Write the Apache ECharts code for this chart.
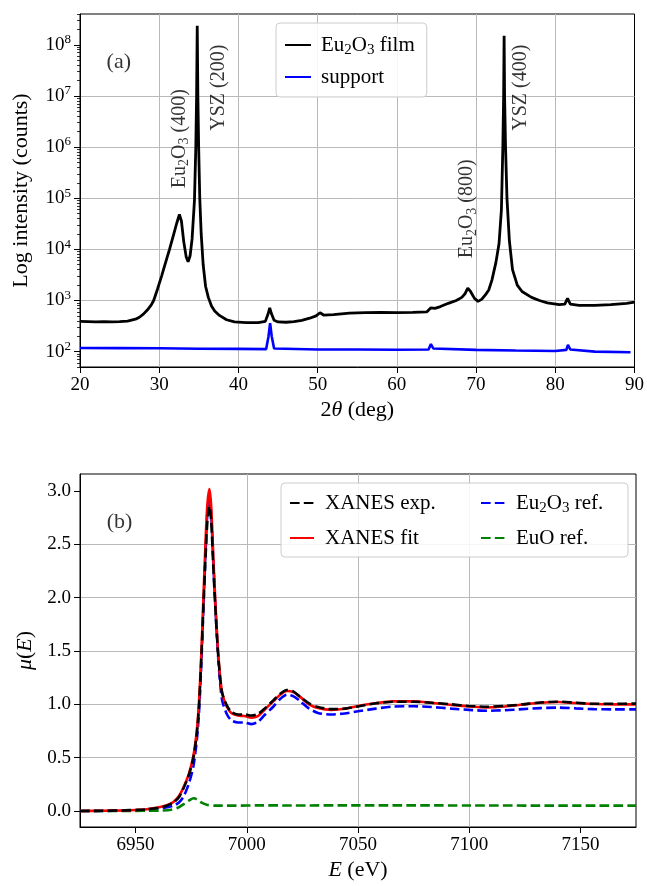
<!DOCTYPE html>
<html><head><meta charset="utf-8">
<script src="https://cdn.jsdelivr.net/npm/echarts@6/dist/echarts.min.js"></script>
<style>html,body{margin:0;padding:0;background:#fff}#c{width:647px;height:886px}</style>
</head><body><div id="c"></div>
<script>
// ---------- data: panel (a) XRD ----------
const filmTheta = [20,21,22,23,24,25,26,27,27.5,28,28.5,29,29.3,29.8,30.3,30.8,31.3,31.8,32.2,32.55,32.8,33.1,33.4,33.65,33.9,34.15,34.45,34.62,34.72,34.8,34.88,34.98,35.12,35.3,35.55,35.85,36.2,36.6,37,37.6,38.5,39.5,41,42.5,43.4,43.75,43.95,44.15,44.5,45,46,47,48,49,49.8,50.3,50.8,52,54,56,58,60,62,63.8,64.3,64.8,65.5,66.5,67.5,68.2,68.6,68.95,69.3,69.8,70.25,70.7,71.2,71.6,72.0,72.5,72.9,73.2,73.38,73.48,73.54,73.6,73.72,73.9,74.2,74.6,75.2,75.8,77,78,79,80.5,81.2,81.55,81.9,83,85,87,89,90];
const filmCounts = [390,385,380,385,380,385,395,430,470,540,650,820,1000,1700,3000,5500,10000,19000,32000,48000,36000,14000,7200,5700,7500,16000,90000,1e6,1e7,2.35e8,1e7,1e6,1e5,20000,5000,1900,1150,780,620,510,420,380,370,370,390,550,720,560,410,380,375,385,410,450,500,575,515,530,565,580,585,580,585,600,720,700,760,880,1000,1150,1350,1750,1500,1100,960,1050,1300,1600,2500,5500,13000,60000,1e6,1e7,1.5e8,1e7,1e6,1e5,15000,4000,2000,1500,1150,1000,900,830,850,1100,850,800,800,830,880,930];
const supportTheta = [20,25,30,35,40,43.5,43.8,44.0,44.2,44.5,50,55,60,64.0,64.3,64.6,70,75,80,81.4,81.6,81.9,85,89.5];
const supportCounts = [118,117,116,114,113,112,200,360,200,115,110,110,109,110,140,115,108,105,103,108,135,110,100,97];

// ---------- data: panel (b) XANES ----------
const energy = [6925,6935,6945,6950,6955,6960,6964,6967,6969.5,6971.7,6974,6976,6977.5,6978.5,6979.5,6980.5,6981.5,6982.3,6983.2,6984,6985,6986,6987,6988,6989,6991,6993,6996,6999,7002,7005,7008,7012,7015,7018,7021,7024,7028,7032,7038,7044,7050,7058,7066,7075,7083,7092,7100,7108,7116,7124,7132,7140,7148,7156,7165,7175];
const muExp = [0,0.002,0.006,0.01,0.016,0.03,0.05,0.08,0.13,0.22,0.34,0.50,0.72,0.98,1.40,1.92,2.40,2.72,2.86,2.72,2.26,1.85,1.50,1.25,1.10,0.99,0.93,0.905,0.905,0.895,0.91,0.96,1.04,1.10,1.135,1.12,1.07,1.01,0.975,0.955,0.96,0.98,1.01,1.025,1.025,1.015,1.0,0.985,0.978,0.985,1.0,1.018,1.025,1.015,1.005,1.005,1.008];
const muFit = [0,0.002,0.006,0.01,0.017,0.032,0.055,0.085,0.14,0.23,0.35,0.52,0.75,1.02,1.45,2.0,2.55,2.88,3.02,2.85,2.35,1.9,1.52,1.26,1.10,0.98,0.92,0.895,0.89,0.875,0.89,0.95,1.03,1.09,1.125,1.115,1.07,1.0,0.965,0.948,0.958,0.985,1.01,1.028,1.028,1.015,0.995,0.98,0.972,0.98,0.998,1.015,1.022,1.012,1.003,1.0,1.0];
const muEu2O3 = [0,0.001,0.004,0.006,0.01,0.02,0.035,0.05,0.08,0.14,0.26,0.42,0.66,0.92,1.35,1.9,2.45,2.8,2.93,2.78,2.3,1.86,1.48,1.2,1.03,0.91,0.85,0.83,0.83,0.815,0.835,0.9,0.98,1.05,1.09,1.075,1.03,0.96,0.92,0.905,0.915,0.935,0.96,0.98,0.982,0.975,0.96,0.948,0.94,0.945,0.955,0.965,0.97,0.962,0.955,0.953,0.953];
const energyEuO = [6925,6945,6955,6962,6966,6969,6972,6974.5,6976,6977.5,6979.5,6982,6986,6995,7005,7020,7050,7100,7150,7175];
const muEuO = [0,0,0.002,0.005,0.012,0.03,0.07,0.105,0.12,0.11,0.08,0.058,0.05,0.05,0.053,0.052,0.053,0.052,0.05,0.05];

// ---------- ticks ----------
const logTicks = [1e2,1e3,1e4,1e5,1e6,1e7,1e8];
const logMinorMultipliers = [2,3,4,5,6,7,8,9];
const thetaTicks = [20,30,40,50,60,70,80,90];
const energyTicks = [6950,7000,7050,7100,7150];
const muTicks = [0,0.5,1.0,1.5,2.0,2.5,3.0];

// ---------- annotations (data coordinates) ----------
const xrdNotes = [
  {x: 32.6, y: 1.46e6, text: 'Eu2O3 (400)', rot: 90},
  {x: 37.5, y: 1.45e7, text: 'YSZ (200)', rot: 90},
  {x: 68.85, y: 6.2e4, text: 'Eu2O3 (800)', rot: 90},
  {x: 75.65, y: 1.45e7, text: 'YSZ (400)', rot: 90},
  {x: 24.9, y: 4.65e7, text: '(a)', rot: 0}
];
const xanesNotes = [{x: 6942.8, y: 2.71, text: '(b)', rot: 0}];

// ---------- build ----------
const FONT = '"Liberation Serif", "DejaVu Serif", serif';
const minorTicks = [];
for (let k = 1; k <= 8; k++) for (const m of logMinorMultipliers) { const v = m * Math.pow(10, k); if (v >= 50 && v <= 4e8) minorTicks.push(v); }
const zip = (a, b) => a.map((v, i) => [v, b[i]]);
const chem = s => s.replace(/Eu2O3/g, 'Eu{sub|2}O{sub|3}');
function rich(fs, lh) {
  return {
    sub: {fontSize: Math.round(fs * 0.7), fontFamily: FONT, color: '#000', padding: [Math.round(fs * 0.5), 0, 0, 0], lineHeight: lh},
    sup: {fontSize: Math.round(fs * 0.7), fontFamily: FONT, color: '#000', padding: [0, 0, Math.round(fs * 0.55), 0], lineHeight: lh},
    i: {fontStyle: 'italic', fontSize: fs, fontFamily: FONT, color: '#000', lineHeight: lh},
    n: {fontSize: fs, fontFamily: FONT, color: '#000', lineHeight: lh}
  };
}
const GRID = '#b9b9b9';
function xAxisBase(gi, min, max, ticks, name, fmt) {
  return {
    gridIndex: gi, type: 'value', min: min, max: max,
    axisLine: {show: true, onZero: false, lineStyle: {color: '#000', width: 1}},
    axisTick: {show: true, length: 6, lineStyle: {color: '#000', width: 1}, customValues: ticks},
    axisLabel: {customValues: ticks, fontSize: 19, fontFamily: FONT, color: '#000', margin: 9, formatter: fmt},
    splitLine: {show: true, showMinLine: false, showMaxLine: false, lineStyle: {color: GRID, width: 1}},
    name: name, nameLocation: 'middle', nameGap: 32,
    nameTextStyle: {fontSize: 22, fontFamily: FONT, color: '#000', rich: rich(22)}
  };
}
function notesSeries(notes, xi, yi) {
  return {
    type: 'scatter', xAxisIndex: xi, yAxisIndex: yi, symbolSize: 0, silent: true, z: 5,
    data: notes.map(n => ({
      value: [n.x, n.y],
      label: {show: true, position: 'inside', rotate: n.rot, formatter: chem(n.text),
        fontSize: n.rot ? 20 : 22, fontFamily: FONT, color: '#000', rich: rich(n.rot ? 20 : 22)}
    }))
  };
}
const dash = [9.6, 4.2];
const legendCommon = {
  orient: 'vertical', itemWidth: 24, itemHeight: 14,
  itemStyle: {opacity: 0, borderWidth: 0},
  formatter: n => chem(n)
};
const option = {
  animation: false,
  grid: [
    {left: 80, top: 14, width: 556, height: 353, show: true, borderColor: '#000', borderWidth: 1, backgroundColor: 'transparent'},
    {left: 80, top: 474, width: 556, height: 353, show: true, borderColor: '#000', borderWidth: 1, backgroundColor: 'transparent'}
  ],
  xAxis: [
    xAxisBase(0, 20, 90, thetaTicks, '2{i|θ} (deg)', v => String(v)),
    xAxisBase(1, 6925, 7175, energyTicks, '{i|E} (eV)', v => String(v))
  ],
  yAxis: [
    {
      gridIndex: 0, type: 'log', logBase: 10, min: 50, max: 4e8, position: 'left',
      axisLine: {show: true, lineStyle: {color: '#000', width: 1}},
      axisTick: {show: true, length: 6, lineStyle: {color: '#000', width: 1}, customValues: logTicks},
      axisLabel: {customValues: logTicks, fontSize: 19, fontFamily: FONT, color: '#000', margin: 9,
        formatter: v => '10{sup|' + Math.round(Math.log10(v)) + '}', rich: rich(19)},
      splitLine: {show: true, showMinLine: false, showMaxLine: false, lineStyle: {color: GRID, width: 1}},
      name: 'Log intensity (counts)', nameLocation: 'middle', nameGap: 48,
      nameTextStyle: {fontSize: 22, fontFamily: FONT, color: '#000'}
    },
    {
      gridIndex: 0, type: 'log', logBase: 10, min: 50, max: 4e8, position: 'left', offset: 0,
      axisLine: {show: false}, axisLabel: {show: false}, splitLine: {show: false},
      axisTick: {show: true, length: 3, lineStyle: {color: '#000', width: 0.8}, customValues: minorTicks}
    },
    {
      gridIndex: 1, type: 'value', min: -0.15, max: 3.16, position: 'left',
      axisLine: {show: true, onZero: false, lineStyle: {color: '#000', width: 1}},
      axisTick: {show: true, length: 6, lineStyle: {color: '#000', width: 1}, customValues: muTicks},
      axisLabel: {customValues: muTicks, fontSize: 19, fontFamily: FONT, color: '#000', margin: 9, formatter: v => v.toFixed(1)},
      splitLine: {show: true, showMinLine: false, showMaxLine: false, lineStyle: {color: GRID, width: 1}},
      name: '{i|μ}({i|E})', nameLocation: 'middle', nameGap: 40,
      nameTextStyle: {fontSize: 22, fontFamily: FONT, color: '#000', rich: rich(22)}
    }
  ],
  legend: [
    Object.assign({}, legendCommon, {
      data: ['Eu2O3 film', 'support'], left: 276, top: 23, itemWidth: 26,
      itemGap: 6, padding: [9, 12, 7, 8],
      backgroundColor: 'rgba(255,255,255,0.85)', borderColor: '#cccccc', borderWidth: 1, borderRadius: 4,
      textStyle: {fontSize: 21, fontFamily: FONT, color: '#000', lineHeight: 26, padding: [0, 0, 0, 5], rich: rich(21, 26)}
    }),
    Object.assign({}, legendCommon, {
      data: ['XANES exp.', 'XANES fit'], left: 289, top: 489, itemGap: 7, padding: 0,
      textStyle: {fontSize: 21, fontFamily: FONT, color: '#000', lineHeight: 28, padding: [0, 0, 0, 6], rich: rich(21, 28)}
    }),
    Object.assign({}, legendCommon, {
      data: ['Eu2O3 ref.', 'EuO ref.'], left: 480, top: 489, itemGap: 7, padding: 0,
      textStyle: {fontSize: 21, fontFamily: FONT, color: '#000', lineHeight: 28, padding: [0, 0, 0, 6], rich: rich(21, 28)}
    })
  ],
  graphic: [
    {type: 'rect', z: 3, shape: {x: 281, y: 483, width: 347, height: 74, r: 4},
     style: {fill: 'rgba(255,255,255,0.85)', stroke: '#cccccc', lineWidth: 1}}
  ],
  series: [
    {name: 'Eu2O3 film', type: 'line', xAxisIndex: 0, yAxisIndex: 0, data: zip(filmTheta, filmCounts),
     symbol: 'none', lineStyle: {color: '#000', width: 2.8}, itemStyle: {color: '#000'}},
    {name: 'support', type: 'line', xAxisIndex: 0, yAxisIndex: 0, data: zip(supportTheta, supportCounts),
     symbol: 'none', lineStyle: {color: '#0000ff', width: 2.6}, itemStyle: {color: '#0000ff'}},
    {name: 'Eu2O3 ref.', type: 'line', xAxisIndex: 1, yAxisIndex: 2, data: zip(energy, muEu2O3), smooth: 0.25,
     symbol: 'none', lineStyle: {color: '#0000ff', width: 2.6, type: dash}, itemStyle: {color: '#0000ff'}},
    {name: 'EuO ref.', type: 'line', xAxisIndex: 1, yAxisIndex: 2, data: zip(energyEuO, muEuO), smooth: 0.25,
     symbol: 'none', lineStyle: {color: '#008000', width: 2.6, type: dash}, itemStyle: {color: '#008000'}},
    {name: 'XANES fit', type: 'line', xAxisIndex: 1, yAxisIndex: 2, data: zip(energy, muFit), smooth: 0.25,
     symbol: 'none', lineStyle: {color: '#ff0000', width: 2.6}, itemStyle: {color: '#ff0000'}},
    {name: 'XANES exp.', type: 'line', xAxisIndex: 1, yAxisIndex: 2, data: zip(energy, muExp), smooth: 0.25,
     symbol: 'none', lineStyle: {color: '#000', width: 2.6, type: dash}, itemStyle: {color: '#000'}},
    notesSeries(xrdNotes, 0, 0),
    notesSeries(xanesNotes, 1, 2)
  ]
};
const chart = echarts.init(document.getElementById('c'), null, {renderer: 'canvas'});
chart.setOption(option);
</script></body></html>
